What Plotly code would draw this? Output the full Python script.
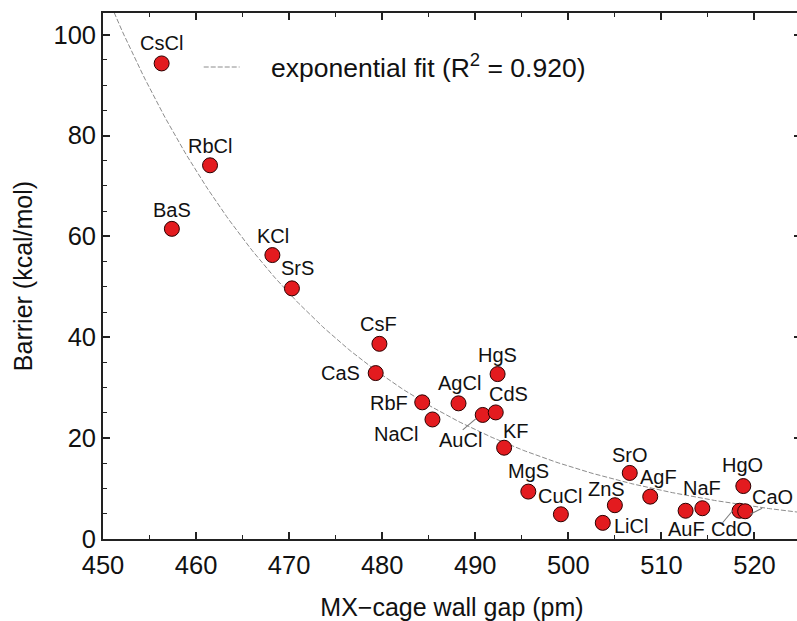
import numpy as np
import plotly.graph_objects as go

# ---- data ----
compounds = ["CsCl", "RbCl", "BaS", "KCl", "SrS", "CsF", "CaS", "RbF", "NaCl", "AgCl",
             "AuCl", "CdS", "HgS", "KF", "MgS", "CuCl", "ZnS", "LiCl", "SrO", "AgF",
             "AuF", "NaF", "HgO", "CdO", "CaO"]
wall_gap = [456.3, 461.5, 457.4, 468.2, 470.3, 479.7, 479.3, 484.3, 485.4, 488.2,
            490.8, 492.2, 492.4, 493.1, 495.7, 499.2, 505.0, 503.7, 506.6, 508.8,
            512.6, 514.4, 518.8, 518.4, 519.0]
barrier = [94.3, 74.1, 61.5, 56.3, 49.7, 38.7, 32.9, 27.1, 23.7, 26.9,
           24.6, 25.1, 32.7, 18.1, 9.4, 4.9, 6.7, 3.2, 13.1, 8.4,
           5.6, 6.1, 10.5, 5.6, 5.5]

# exponential fit parameters (y = A * exp(-k * (x - 450)))
fit_A = 109.5
fit_k = 0.0405
fit_label = "exponential fit (R<sup>2</sup> = 0.920)"

x_ticks = [450, 460, 470, 480, 490, 500, 510, 520]
y_ticks = [0, 20, 40, 60, 80, 100]

# ---- label placement (pixel offsets of label centre from the marker) ----
label_offsets = {
    "CsCl": (0, -20), "RbCl": (0, -19), "BaS": (0, -19), "KCl": (1, -19),
    "SrS": (6, -20), "CsF": (-1, -20), "CaS": (-35, 0), "RbF": (-33, 1),
    "NaCl": (-36, 15), "AgCl": (1, -20), "AuCl": (-22, 25), "CdS": (13, -18),
    "HgS": (0, -19), "KF": (12, -17), "MgS": (0, -21), "CuCl": (-1, -18),
    "ZnS": (-8, -16), "LiCl": (28, 3), "SrO": (0, -18), "AgF": (8, -20),
    "NaF": (0, -20), "AuF": (1, 18), "HgO": (-1, -21), "CdO": (-8, 18),
    "CaO": (27, -14),
}
# leader lines: pixel offsets (screen, y down) of both ends from the marker
leaders = {
    "AuCl": ((-20, 15), (-7, 4)),
    "CdO": ((-17, 12), (-7, 0)),
    "CaO": ((17, -3), (5, 3)),
}

FONT = "Liberation Sans, Arial, sans-serif"
TXT = "#111111"
AX = "#222222"

xfit = np.linspace(450, 525, 300)
yfit = fit_A * np.exp(-fit_k * (xfit - 450))

fig = go.Figure()
fig.add_trace(go.Scatter(
    x=xfit, y=yfit, mode="lines",
    line=dict(color="#8c8c8c", width=1, dash="5px,2px"),
    hoverinfo="skip", showlegend=False,
))
fig.add_trace(go.Scatter(
    x=wall_gap, y=barrier, mode="markers", text=compounds,
    marker=dict(size=15, color="#e31b1f", line=dict(color="#2a0000", width=1)),
    showlegend=False,
))

annotations = []
shapes = []
for name, xv, yv in zip(compounds, wall_gap, barrier):
    dx, dy = label_offsets[name]
    annotations.append(dict(
        x=xv, y=yv, text=name, showarrow=False,
        xanchor="center", yanchor="middle", xshift=dx, yshift=-dy,
        font=dict(family=FONT, size=20, color=TXT),
    ))
    if name in leaders:
        (ax0, ay0), (ax1, ay1) = leaders[name]
        shapes.append(dict(
            type="line", xref="x", yref="y",
            xsizemode="pixel", ysizemode="pixel", xanchor=xv, yanchor=yv,
            x0=ax0, x1=ax1, y0=-ay0, y1=-ay1,
            line=dict(color="#7a7a7a", width=1.1), layer="above",
        ))

# manual legend entry
leg_y = (539 - 66) / 526
annotations.append(dict(
    xref="paper", yref="paper", x=(269 - 103) / 700, y=leg_y,
    text=fit_label, showarrow=False, xanchor="left", yanchor="middle",
    font=dict(family=FONT, size=26.5, color=TXT),
))
shapes.append(dict(
    type="line", xref="paper", yref="paper",
    x0=(204 - 103) / 700, x1=(240 - 103) / 700,
    y0=(539 - 67) / 526, y1=(539 - 67) / 526,
    line=dict(color="#8c8c8c", width=1, dash="5px,2px"),
))

fig.update_layout(
    width=803, height=621,
    margin=dict(l=103, r=0, t=13, b=82),
    paper_bgcolor="white", plot_bgcolor="white",
    font=dict(family=FONT, color=TXT),
    annotations=annotations, shapes=shapes,
    xaxis=dict(
        range=[450, 525], tickvals=x_ticks, ticks="inside", ticklen=7, tickwidth=1.5,
        tickcolor=AX, showline=True, linecolor=AX, linewidth=1.8, mirror="allticks",
        showgrid=False, zeroline=False, ticklabelstandoff=2,
        tickfont=dict(family=FONT, size=25.5, color=TXT),
        minor=dict(dtick=5, tick0=450, ticks="inside", ticklen=4, tickcolor=AX, tickwidth=1.2),
        title=dict(text="MX\u2212cage wall gap (pm)", font=dict(family=FONT, size=25, color=TXT),
                   standoff=21),
    ),
    yaxis=dict(
        range=[0, 104.3], tickvals=y_ticks, ticks="inside", ticklen=7, tickwidth=1.5,
        tickcolor=AX, showline=True, linecolor=AX, linewidth=1.8, mirror="allticks",
        showgrid=False, zeroline=False,
        tickfont=dict(family=FONT, size=25.5, color=TXT),
        minor=dict(dtick=5, tick0=0, ticks="inside", ticklen=4, tickcolor=AX, tickwidth=1.2),
        title=dict(text="Barrier (kcal/mol)", font=dict(family=FONT, size=25, color=TXT),
                   standoff=14),
    ),
)

fig.write_html("out.html")
